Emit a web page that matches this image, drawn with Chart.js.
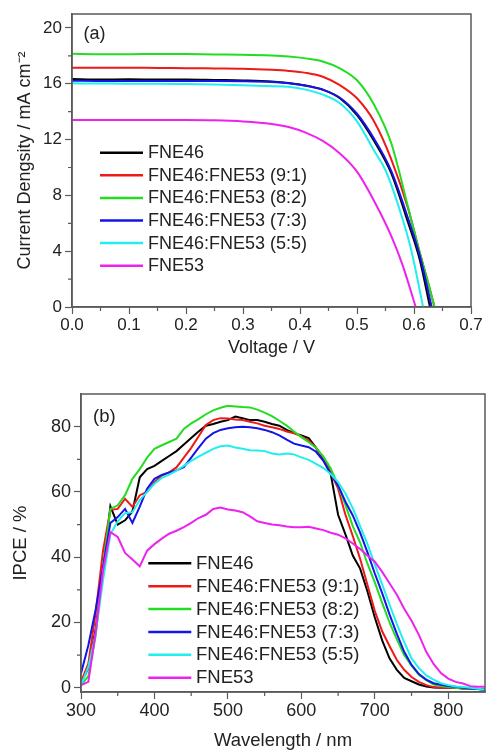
<!DOCTYPE html>
<html><head><meta charset="utf-8">
<script src="https://cdn.jsdelivr.net/npm/chart.js@4/dist/chart.umd.min.js"></script>
<style>
html,body{margin:0;padding:0;background:#fff;}
.wrap{position:relative;width:486px;height:375px;}
canvas{display:block;}
</style></head><body>
<div class="wrap"><canvas id="a" width="486" height="375"></canvas></div>
<div class="wrap"><canvas id="b" width="486" height="375"></canvas></div>
<script>
// ---------- shared ----------
const SERIES_NAMES = ['FNE46','FNE46:FNE53 (9:1)','FNE46:FNE53 (8:2)','FNE46:FNE53 (7:3)','FNE46:FNE53 (5:5)','FNE53'];

// ---------- (a) J-V curves ----------
const V_FNE46 = [0, 0.05, 0.1, 0.15, 0.2, 0.25, 0.3, 0.35, 0.38, 0.41, 0.44, 0.47, 0.5, 0.53, 0.56, 0.59, 0.61, 0.628];
const J_FNE46 = [16.35, 16.3, 16.32, 16.3, 16.3, 16.27, 16.24, 16.17, 16.06, 15.88, 15.58, 14.96, 13.76, 11.9, 9.6, 6.0, 3.4, 0];
const V_91 = [0, 0.05, 0.1, 0.15, 0.2, 0.25, 0.3, 0.35, 0.38, 0.41, 0.44, 0.47, 0.5, 0.53, 0.56, 0.59, 0.61, 0.625, 0.636];
const J_91 = [17.15, 17.15, 17.15, 17.13, 17.12, 17.1, 17.08, 17.0, 16.92, 16.78, 16.5, 15.9, 14.96, 13.3, 10.6, 7.0, 3.9, 1.7, 0];
const V_82 = [0, 0.05, 0.1, 0.15, 0.2, 0.25, 0.3, 0.35, 0.38, 0.41, 0.44, 0.47, 0.5, 0.53, 0.56, 0.59, 0.61, 0.625, 0.636];
const J_82 = [18.15, 18.12, 18.12, 18.14, 18.13, 18.1, 18.08, 18.02, 17.95, 17.82, 17.6, 17.1, 16.25, 14.5, 11.75, 7.1, 3.9, 1.7, 0];
const V_73 = [0, 0.05, 0.1, 0.15, 0.2, 0.25, 0.3, 0.35, 0.38, 0.41, 0.44, 0.47, 0.5, 0.53, 0.56, 0.59, 0.61, 0.631];
const J_73 = [16.22, 16.2, 16.2, 16.2, 16.2, 16.2, 16.18, 16.12, 16.03, 15.86, 15.57, 15.0, 13.85, 12.05, 9.75, 6.3, 3.7, 0];
const V_55 = [0, 0.05, 0.1, 0.15, 0.2, 0.25, 0.3, 0.35, 0.38, 0.41, 0.44, 0.47, 0.5, 0.53, 0.55, 0.575, 0.595, 0.616];
const J_55 = [16.03, 16.02, 16.0, 16.0, 15.98, 15.95, 15.9, 15.83, 15.78, 15.58, 15.22, 14.6, 13.3, 11.2, 9.8, 6.95, 4.1, 0];
const V_FNE53 = [0, 0.05, 0.1, 0.15, 0.2, 0.25, 0.3, 0.35, 0.38, 0.41, 0.44, 0.47, 0.5, 0.53, 0.56, 0.58, 0.603];
const J_FNE53 = [13.4, 13.4, 13.4, 13.4, 13.4, 13.38, 13.3, 13.12, 12.9, 12.5, 11.9, 11.0, 9.7, 7.6, 5.1, 3.0, 0];
const X_TICKS_A = [0, 0.1, 0.2, 0.3, 0.4, 0.5, 0.6, 0.7];
const X_MINOR_A = [0.05, 0.15, 0.25, 0.35, 0.45, 0.55, 0.65];
const Y_TICKS_A = [0, 4, 8, 12, 16, 20];
const Y_MINOR_A = [2, 6, 10, 14, 18];

// ---------- (b) IPCE ----------
const WAVELENGTH = [300,310,320,330,340,350,360,370,380,390,400,410,420,430,440,450,460,470,480,490,500,510,520,530,540,550,560,570,580,590,600,610,620,630,640,650,660,670,680,690,700,710,720,730,740,750,760,770,780,790,800,810,820,830,840,850];
const IPCE_FNE46 = [1.5,6,18,36,55.6,50,51.3,54,64.5,67, 68,69.5,71,72.5,74.5,76.5,78.5,80.3,80.8,81.5, 82,83.1,82.6,82,82,81.5,80.8,80.3,79,78, 77.3,76.5,73.5,70,65.5,53,47,40.5,36.5,29.5, 21.5,14.5,9,5.5,3,2,1,0.4,0.1,0, 0,0,-0.2,-0.3,-0.4,-0.5];
const IPCE_91 = [1.8,7.4,23,42,54.5,54.8,57.9,55.4,59,60, 63,65,66,67.5,70.5,73.5,77,80.5,82,82.6, 82.5,82.2,82,81.5,81,80.3,79.8,79.3,78.5,78, 77,75.7,73.5,70.5,66,61,53,46.5,39.5,31.5, 23.5,17.3,12.8,8.5,5.5,3.3,1.8,0.8,0.2,0, 0,0,-0.2,-0.3,-0.4,-0.5];
const IPCE_82 = [0.8,3.5,16,37,54.8,55.9,59,64,67,70.5, 73.2,74.3,75.3,76.3,79.3,81,82.3,83.8,85,85.8, 86.4,86.2,86,85.9,85.2,84.3,83.2,81.8,80.3,78.5, 76.8,75.2,73.5,70.8,67.2,62,56,49.5,44.5,38, 32.3,26,20,14.8,10,6.8,4,2.3,1,0.5, 0.2,0,-0.2,-0.3,-0.4,-0.5];
const IPCE_73 = [4.4,13,24,37,50.5,52.3,54.8,50.5,55.5,61, 64,65.2,66,66.6,67.6,70.5,73.5,76.3,78,79, 79.5,79.8,80,79.8,79.5,79,78.3,77.3,76,74.8, 74.2,73.7,72.3,69.5,65.5,62,57,52.8,47.5,41.5, 35,29,22.5,16.5,11,7,4.2,2.5,1.4,0.9, 0.5,0.3,0,-0.2,-0.4,-0.5];
const IPCE_55 = [0.8,6.4,16.6,33,47,51,53.5,53.8,57.5,60, 62.5,64.3,65.3,66.5,68,69.5,70.8,72,73.2,74, 74.2,73.6,73.2,72.8,72.7,72.5,71.8,71.5,71.8,71.5, 70.6,69.8,68.6,67.3,65.5,63,59.5,55,49.5,44, 37.8,31.7,25.5,19.5,14,9,6,3.8,2.5,1.4, 0.8,0.4,0.2,0,-0.3,-0.5];
const IPCE_FNE53 = [0.8,1.8,17,36,47.7,46.2,41.3,39.3,37.2,42, 44,45.7,47.2,48.1,49.2,50.5,52,53,54.8,55.2, 54.6,54.3,53.8,52.5,51,50.5,50,49.8,49.4,49.2, 49.2,49.3,48.8,48.3,47.5,46.9,45.8,44.2,42.5,40.5, 38.6,35.5,32,28.5,24.2,20.5,16.2,11,7.3,4.5, 2.8,1.8,1.3,0.5,0.3,0.3];
const X_TICKS_B = [300, 400, 500, 600, 700, 800];
const X_MINOR_B = [350, 450, 550, 650, 750];
const Y_TICKS_B = [0, 20, 40, 60, 80];
const Y_MINOR_B = [10, 30, 50, 70];

// ---------- styling ----------
const FONT = "'Liberation Sans', Arial, Helvetica, sans-serif";
const COLORS = ['#000000', '#ee1a1a', '#22dd22', '#1414e8', '#22eeee', '#ee22ee'];
const TXT = '#222';
const AXIS = '#5a5a5a';
Chart.defaults.font.family = FONT;
Chart.defaults.color = TXT;

const decoPlugin = {
  id: 'deco',
  afterDraw(chart, args, o) {
    const {ctx, chartArea: a, scales} = chart;
    ctx.save();
    // frame
    ctx.strokeStyle = AXIS; ctx.lineWidth = 1.5;
    ctx.strokeRect(a.left, a.top, a.right - a.left, a.bottom - a.top);
    // minor ticks
    ctx.lineWidth = 1.2;
    ctx.beginPath();
    o.minorX.forEach(v => { const x = scales.x.getPixelForValue(v); ctx.moveTo(x, a.bottom); ctx.lineTo(x, a.bottom + 4); });
    o.minorY.forEach(v => { const y = scales.y.getPixelForValue(v); ctx.moveTo(a.left, y); ctx.lineTo(a.left - 4, y); });
    ctx.stroke();
    // panel label
    ctx.fillStyle = TXT; ctx.font = o.panelSize + 'px ' + FONT;
    ctx.textBaseline = 'middle'; ctx.textAlign = 'left';
    ctx.fillText(o.panel, o.px, o.py);
    // legend
    ctx.font = o.legSize + 'px ' + FONT;
    chart.data.datasets.forEach((ds, i) => {
      const y = o.ly + i * o.ldy;
      ctx.strokeStyle = ds.borderColor; ctx.lineWidth = 2.5;
      ctx.beginPath(); ctx.moveTo(o.lx, y); ctx.lineTo(o.lx + o.llen, y); ctx.stroke();
      ctx.fillText(ds.label, o.lx + o.llen + o.lgap, y + 0.5);
    });
    ctx.restore();
  }
};

function axisCommon(tickArr, fit, isX, size, pad) {
  return {
    type: 'linear',
    afterBuildTicks: s => { s.ticks = tickArr.map(v => ({value: v})); },
    afterFit: s => { if (isX) s.height = fit; else s.width = fit; },
    ticks: {padding: pad, color: TXT, font: {size: size}, maxRotation: 0, autoSkip: false},
    grid: {display: true, drawOnChartArea: false, drawTicks: true, tickLength: 7, tickColor: AXIS, tickWidth: 1.2},
    border: {display: true, color: AXIS, width: 1.5}
  };
}

// ---------- chart (a) ----------
const jvPairs = [[V_FNE46, J_FNE46], [V_91, J_91], [V_82, J_82], [V_73, J_73], [V_55, J_55], [V_FNE53, J_FNE53]];
const xa = axisCommon(X_TICKS_A, 68, true, 17, 1.5);
xa.min = 0; xa.max = 0.7;
xa.ticks.callback = v => Number(v).toFixed(1);
xa.title = {display: true, text: 'Voltage / V', color: TXT, font: {size: 18, lineHeight: 1}, padding: {top: 0, bottom: 17.6}};
const ya = axisCommon(Y_TICKS_A, 72, false, 17, 3);
ya.min = 0; ya.max = 21;
ya.title = {display: true, text: 'Current Dengsity / mA cm\u207B\u00B2', color: TXT, font: {size: 18, lineHeight: 1}, padding: {top: 16.4, bottom: 0}};

new Chart(document.getElementById('a'), {
  type: 'line',
  data: {
    datasets: jvPairs.map(([v, j], i) => ({
      label: SERIES_NAMES[i],
      data: v.map((x, k) => ({x: x, y: j[k]})),
      borderColor: COLORS[i], backgroundColor: COLORS[i],
      borderWidth: 2, pointRadius: 0, fill: false,
      cubicInterpolationMode: 'monotone', order: 5 - i
    }))
  },
  options: {
    responsive: false, animation: false,
    layout: {padding: {top: 14, right: 15, left: 0, bottom: 0}},
    plugins: {
      legend: {display: false}, tooltip: {enabled: false},
      deco: {minorX: X_MINOR_A, minorY: Y_MINOR_A, panel: '(a)', px: 83.5, py: 34, panelSize: 18,
             legSize: 18, lx: 100, ly: 152.7, ldy: 22.6, llen: 43, lgap: 5}
    },
    scales: {x: xa, y: ya}
  },
  plugins: [decoPlugin]
});

// ---------- chart (b) ----------
const ipce = [IPCE_FNE46, IPCE_91, IPCE_82, IPCE_73, IPCE_55, IPCE_FNE53];
const xb = axisCommon(X_TICKS_B, 58, true, 18, 1);
xb.min = 300; xb.max = 850;
xb.title = {display: true, text: 'Wavelength / nm', color: TXT, font: {size: 18.5, lineHeight: 1}, padding: {top: 0, bottom: 0}};
const yb = axisCommon(Y_TICKS_B, 81, false, 18, 3);
yb.min = -1.3; yb.max = 90;
yb.title = {display: true, text: 'IPCE / %', color: TXT, font: {size: 18.5, lineHeight: 1}, padding: {top: 11.5, bottom: 0}};

new Chart(document.getElementById('b'), {
  type: 'line',
  data: {
    datasets: ipce.map((arr, i) => ({
      label: SERIES_NAMES[i],
      data: WAVELENGTH.map((w, k) => ({x: w, y: arr[k]})),
      borderColor: COLORS[i], backgroundColor: COLORS[i],
      borderWidth: 2, pointRadius: 0, fill: false, tension: 0, order: 5 - i
    }))
  },
  options: {
    responsive: false, animation: false,
    layout: {padding: {top: 19, right: 1, left: 0, bottom: 0}},
    plugins: {
      legend: {display: false}, tooltip: {enabled: false},
      deco: {minorX: X_MINOR_B, minorY: Y_MINOR_B, panel: '(b)', px: 93, py: 42, panelSize: 18.5,
             legSize: 18.5, lx: 148.3, ly: 188.3, ldy: 22.87, llen: 43, lgap: 4.7}
    },
    scales: {x: xb, y: yb}
  },
  plugins: [decoPlugin]
});
</script>
</body></html>
